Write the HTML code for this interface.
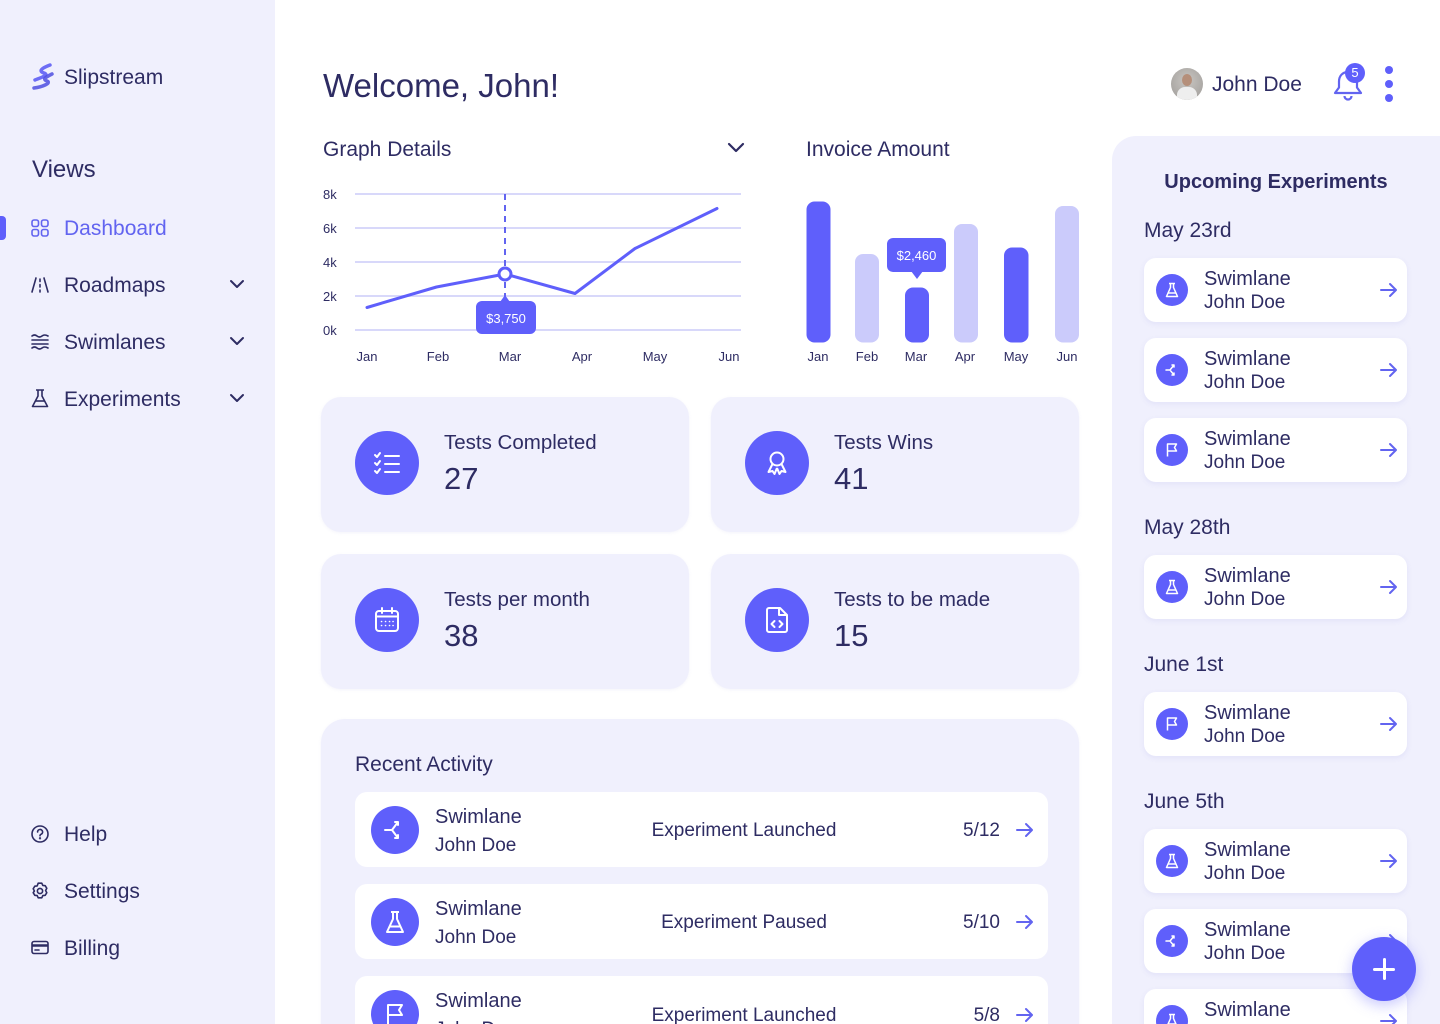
<!DOCTYPE html>
<html style="width:1440px;height:1024px;overflow:hidden"><head><meta charset="utf-8">
<style>
*{margin:0;padding:0;box-sizing:border-box}
html,body{width:1440px;height:1024px;overflow:hidden}
body{background:#fff;font-family:"Liberation Sans",sans-serif;color:#2e2c63}
#root{position:relative;width:1440px;height:1024px;overflow:hidden}
.a{position:absolute;white-space:nowrap}
.sb{position:absolute;left:0;top:0;width:275px;height:1024px;background:#f0f0fd}
.nav{position:absolute;left:64px;font-size:21px;line-height:26px;height:26px}
.ic{position:absolute}
.card{position:absolute;background:#f0f0fd;border-radius:20px;box-shadow:0 1px 3px rgba(120,120,200,.08)}
.circ{position:absolute;width:64px;height:64px;border-radius:50%;background:#5f5ffb;left:34px;top:34px}
.circ svg{position:absolute;left:16px;top:16px}
.ct{position:absolute;left:123px;top:33px;font-size:20.5px;line-height:26px}
.cn{position:absolute;left:123px;top:64px;font-size:31px;line-height:36px}
.row{position:absolute;left:355px;width:693px;height:75px;background:#fff;border-radius:12px}
.row .c{position:absolute;left:16px;top:14px;width:48px;height:48px;border-radius:50%;background:#5f5ffb}
.row .c svg{position:absolute;left:12px;top:12px}
.row .t1{position:absolute;left:80px;top:13px;font-size:20px;line-height:24px}
.row .t2{position:absolute;left:80px;top:42px;font-size:19px;line-height:24px}
.row .m{position:absolute;left:200px;width:378px;top:27px;text-align:center;font-size:19px;line-height:24px}
.row .d{position:absolute;right:48px;top:27px;font-size:19px;line-height:24px}
.row .ar{position:absolute;right:14px;top:30px}
.rp{position:absolute;left:1112px;top:136px;width:328px;height:888px;background:#f0f0fd;border-top-left-radius:24px}
.ue{position:absolute;left:1144px;width:263px;height:64px;background:#fff;border-radius:12px;box-shadow:0 2px 6px rgba(110,110,210,.10)}
.ue .c{position:absolute;left:12px;top:16px;width:32px;height:32px;border-radius:50%;background:#5f5ffb}
.ue .c svg{position:absolute;left:8px;top:8px}
.ue .t1{position:absolute;left:60px;top:9px;font-size:20px;line-height:24px}
.ue .t2{position:absolute;left:60px;top:33px;font-size:19px;line-height:24px}
.ue .ar{position:absolute;left:236px;top:24px}
.dt{position:absolute;left:1144px;font-size:21px;line-height:26px}
</style></head><body><div id="root">

<div class="sb"></div>
<!-- logo -->
<svg class="ic" style="left:30px;top:62px" width="28" height="30" viewBox="0 0 28 30">
<path d="M20 3 C12 6 8 9 14 11 C20 13 10 16 5 18" stroke="#6d6df5" stroke-width="3.5" fill="none" stroke-linecap="round"/>
<path d="M22 12 C16 15 12 17 17 19 C22 21 12 25 4 26" stroke="#4f4fe0" stroke-width="3.5" fill="none" stroke-linecap="round" opacity=".85"/>
</svg>
<div class="a" style="left:64px;top:65px;font-size:21px;line-height:26px">Slipstream</div>
<div class="a" style="left:32px;top:156px;font-size:24px;line-height:28px">Views</div>

<div class="a" style="left:0;top:216px;width:6px;height:24px;background:#5f5ffb;border-radius:0 4px 4px 0"></div>
<svg class="ic" style="left:31px;top:219px" width="18" height="18" viewBox="0 0 18 18" fill="none" stroke="#6264f0" stroke-width="1.6">
<rect x="1" y="1" width="6.5" height="6.5" rx="2"/><rect x="10.5" y="1" width="6.5" height="6.5" rx="2"/><rect x="1" y="10.5" width="6.5" height="6.5" rx="2"/><rect x="10.5" y="10.5" width="6.5" height="6.5" rx="2"/></svg>
<div class="nav a" style="top:216px;color:#6264f0">Dashboard</div>

<svg class="ic" style="left:31px;top:276px" width="18" height="18" viewBox="0 0 18 18" fill="none" stroke="#2e2c63" stroke-width="1.6" stroke-linecap="round">
<path d="M5 2 L1 16"/><path d="M13 2 L17 16"/><path d="M9 3v2.5M9 8.5v2.5M9 14v2"/></svg>
<div class="nav a" style="top:273px">Roadmaps</div>
<svg class="ic" style="left:31px;top:333px" width="18" height="18" viewBox="0 0 18 18" fill="none" stroke="#2e2c63" stroke-width="1.6" stroke-linecap="round">
<path d="M1 3 Q3.5 1 6 3 T11 3 T17 3"/><path d="M1 7h16"/><path d="M1 11h16"/><path d="M1 15 Q3.5 13 6 15 T11 15 T17 15"/></svg>
<div class="nav a" style="top:330px">Swimlanes</div>
<svg class="ic" style="left:31px;top:389px" width="18" height="19" viewBox="0 0 18 19" fill="none" stroke="#2e2c63" stroke-width="1.6" stroke-linejoin="round">
<path d="M5 1h8M7 1v6L1.5 17.5h15L11 7V1"/><path d="M4 12h10"/></svg>
<div class="nav a" style="top:387px">Experiments</div>

<svg class="ic" style="left:229px;top:279px" width="16" height="10" viewBox="0 0 16 10"><path d="M2 2l6 6 6-6" stroke="#2e2c63" stroke-width="2" fill="none" stroke-linecap="round" stroke-linejoin="round"/></svg>
<svg class="ic" style="left:229px;top:336px" width="16" height="10" viewBox="0 0 16 10"><path d="M2 2l6 6 6-6" stroke="#2e2c63" stroke-width="2" fill="none" stroke-linecap="round" stroke-linejoin="round"/></svg>
<svg class="ic" style="left:229px;top:393px" width="16" height="10" viewBox="0 0 16 10"><path d="M2 2l6 6 6-6" stroke="#2e2c63" stroke-width="2" fill="none" stroke-linecap="round" stroke-linejoin="round"/></svg>

<svg class="ic" style="left:31px;top:825px" width="18" height="18" viewBox="0 0 18 18" fill="none" stroke="#2e2c63" stroke-width="1.6" stroke-linecap="round">
<circle cx="9" cy="9" r="8"/><path d="M6.6 7a2.5 2.5 0 1 1 3.4 2.3c-.7.3-1 .8-1 1.5"/><circle cx="9" cy="13.3" r=".4" fill="#2e2c63"/></svg>
<div class="nav a" style="top:822px">Help</div>
<svg class="ic" style="left:31px;top:882px" width="18" height="18" viewBox="0 0 18 18" fill="none" stroke="#2e2c63" stroke-width="1.6" stroke-linejoin="round">
<path d="M7.2 1.2h3.6l1 2.2 2.4.3 1.6 2.6-1.2 2.2 1.2 2.2-1.6 2.6-2.4.3-1 2.2H7.2l-1-2.2-2.4-.3-1.6-2.6L3.4 9 2.2 6.8l1.6-2.6 2.4-.3z"/><circle cx="9" cy="9" r="2.6"/></svg>
<div class="nav a" style="top:879px">Settings</div>
<svg class="ic" style="left:31px;top:940px" width="18" height="16" viewBox="0 0 18 16" fill="none" stroke="#2e2c63" stroke-width="1.6">
<rect x="1" y="1.5" width="16" height="12" rx="2"/><path d="M1 5.5h16" stroke-width="2.5"/><path d="M4 10h4" stroke-linecap="round"/></svg>
<div class="nav a" style="top:936px">Billing</div>

<!-- header -->
<div class="a" style="left:323px;top:67px;font-size:33px;line-height:38px">Welcome, John!</div>
<div class="a" style="left:1171px;top:68px;width:32px;height:32px;border-radius:50%;background:radial-gradient(circle at 50% 40%,#c9c6c2,#9d9a97);overflow:hidden">
<div style="position:absolute;left:11px;top:6px;width:10px;height:12px;border-radius:50%;background:#b58f7a"></div>
<div style="position:absolute;left:6px;top:19px;width:20px;height:16px;border-radius:8px 8px 0 0;background:#eeeeee"></div></div>
<div class="a" style="left:1212px;top:72px;font-size:21px;line-height:26px">John Doe</div>
<svg class="ic" style="left:1331px;top:64px" width="36" height="38" viewBox="0 0 36 38" fill="none" stroke="#6264f0" stroke-width="2.2" stroke-linejoin="round">
<path d="M17 8c-5.5 0-9 4-9 9.5v6L4 29h26l-4-5.5v-6C26 12 22.5 8 17 8z"/><path d="M13.5 32a3.5 3.5 0 0 0 7 0"/></svg>
<div class="a" style="left:1345px;top:63px;width:20px;height:20px;border-radius:50%;background:#5f5ffb;color:#fff;font-size:13px;line-height:20px;text-align:center">5</div>
<div class="a" style="left:1385px;top:66px;width:8px;height:8px;border-radius:50%;background:#5f5ffb"></div>
<div class="a" style="left:1385px;top:80px;width:8px;height:8px;border-radius:50%;background:#5f5ffb"></div>
<div class="a" style="left:1385px;top:94px;width:8px;height:8px;border-radius:50%;background:#5f5ffb"></div>

<!-- charts -->
<div class="a" style="left:323px;top:137px;font-size:21px;line-height:26px">Graph Details</div>
<svg class="ic" style="left:727px;top:142px" width="18" height="12" viewBox="0 0 18 12"><path d="M2 2l7 7 7-7" stroke="#2e2c63" stroke-width="2.2" fill="none" stroke-linecap="round" stroke-linejoin="round"/></svg>
<div class="a" style="left:806px;top:137px;font-size:21px;line-height:26px">Invoice Amount</div>

<svg class="ic" style="left:0;top:0" width="1440" height="380" viewBox="0 0 1440 380">
<g stroke="#d8d8fa" stroke-width="2">
<line x1="355" y1="194" x2="741" y2="194"/><line x1="355" y1="228" x2="741" y2="228"/><line x1="355" y1="262" x2="741" y2="262"/><line x1="355" y1="296" x2="741" y2="296"/><line x1="355" y1="330" x2="741" y2="330"/></g>
<g font-family="Liberation Sans,sans-serif" font-size="13" fill="#2e2c63">
<text x="323" y="199">8k</text><text x="323" y="233">6k</text><text x="323" y="267">4k</text><text x="323" y="301">2k</text><text x="323" y="335">0k</text>
<g text-anchor="middle"><text x="367" y="361">Jan</text><text x="438" y="361">Feb</text><text x="510" y="361">Mar</text><text x="582" y="361">Apr</text><text x="655" y="361">May</text><text x="729" y="361">Jun</text>
<text x="818" y="361">Jan</text><text x="867" y="361">Feb</text><text x="916" y="361">Mar</text><text x="965" y="361">Apr</text><text x="1016" y="361">May</text><text x="1067" y="361">Jun</text></g></g>
<line x1="505" y1="194" x2="505" y2="300" stroke="#6264f0" stroke-width="2" stroke-dasharray="6,5"/>
<polyline points="367,307.5 436.5,287 505,274 575,293.5 635,248.5 717,208.5" fill="none" stroke="#5f5ffb" stroke-width="3" stroke-linejoin="round" stroke-linecap="round"/>
<circle cx="505" cy="274" r="6" fill="#fff" stroke="#5f5ffb" stroke-width="3"/>
<rect x="476" y="301" width="60" height="33" rx="6" fill="#5f5ffb"/>
<path d="M500 302 L505 295 L510 302z" fill="#5f5ffb"/>
<text x="506" y="323" font-family="Liberation Sans,sans-serif" font-size="13" fill="#fff" text-anchor="middle">$3,750</text>
<g>
<rect x="806.5" y="201.5" width="24" height="141" rx="8" fill="#5f5ffb"/>
<rect x="855" y="254" width="24" height="88.5" rx="8" fill="#cbcbfb"/>
<rect x="905" y="287.5" width="24" height="55" rx="8" fill="#5f5ffb"/>
<rect x="954" y="224" width="24" height="118.5" rx="8" fill="#cbcbfb"/>
<rect x="1004" y="247.5" width="24.5" height="95" rx="8" fill="#5f5ffb"/>
<rect x="1055" y="206" width="24" height="136.5" rx="8" fill="#cbcbfb"/></g>
<rect x="887" y="238" width="59" height="34" rx="6" fill="#5f5ffb"/>
<path d="M911 271 L917 279 L923 271z" fill="#5f5ffb"/>
<text x="916.5" y="260" font-family="Liberation Sans,sans-serif" font-size="13" fill="#fff" text-anchor="middle">$2,460</text>
</svg>

<!-- stat cards -->
<div class="card" style="left:321px;top:397px;width:368px;height:135px">
<div class="circ"><svg width="32" height="32" viewBox="0 0 32 32" fill="none" stroke="#fff" stroke-width="2" stroke-linecap="round" stroke-linejoin="round">
<path d="M4 8l2 2 3-4M4 16l2 2 3-4M4 24l2 2 3-4"/><path d="M14 9h14M14 17h14M14 25h14"/></svg></div>
<div class="ct">Tests Completed</div><div class="cn">27</div></div>
<div class="card" style="left:711px;top:397px;width:368px;height:135px">
<div class="circ"><svg width="32" height="32" viewBox="0 0 32 32" fill="none" stroke="#fff" stroke-width="2" stroke-linejoin="round">
<circle cx="16" cy="12" r="6.5"/><path d="M11.5 17l-4 8 4-1 2 3 2.5-6M20.5 17l4 8-4-1-2 3-2.5-6"/></svg></div>
<div class="ct">Tests Wins</div><div class="cn">41</div></div>
<div class="card" style="left:321px;top:554px;width:368px;height:135px">
<div class="circ"><svg width="32" height="32" viewBox="0 0 32 32" fill="none" stroke="#fff" stroke-width="2" stroke-linecap="round">
<rect x="5" y="7" width="22" height="20" rx="3"/><path d="M5 12.5h22M11 4v5M21 4v5"/><g stroke-width="1.6"><path d="M10.5 17.5h.1M14.5 17.5h.1M18.5 17.5h.1M22 17.5h.1M10.5 21.5h.1M14.5 21.5h.1M18.5 21.5h.1M22 21.5h.1"/></g></svg></div>
<div class="ct">Tests per month</div><div class="cn">38</div></div>
<div class="card" style="left:711px;top:554px;width:368px;height:135px">
<div class="circ"><svg width="32" height="32" viewBox="0 0 32 32" fill="none" stroke="#fff" stroke-width="2" stroke-linecap="round" stroke-linejoin="round">
<path d="M8 4h11l7 7v15a2 2 0 0 1-2 2H8a2 2 0 0 1-2-2V6a2 2 0 0 1 2-2z"/><path d="M18 4v7h7"/><path d="M13.5 17l-3 3 3 3M18.5 17l3 3-3 3"/></svg></div>
<div class="ct">Tests to be made</div><div class="cn">15</div></div>

<!-- recent activity -->
<div class="card" style="left:321px;top:719px;width:758px;height:340px;border-radius:24px"></div>
<div class="a" style="left:355px;top:752px;font-size:21px;line-height:26px">Recent Activity</div>

<div class="row" style="top:792px"><div class="c"><svg width="24" height="24" viewBox="0 0 24 24" fill="none" stroke="#fff" stroke-width="2" stroke-linecap="round" stroke-linejoin="round"><path d="M2 12h7l6-8M9 12l6 8M12 4h3v3M12 20h3v-3"/></svg></div>
<div class="t1">Swimlane</div><div class="t2">John Doe</div><div class="m">Experiment Launched</div><div class="d">5/12</div>
<svg class="ar" width="18" height="16" viewBox="0 0 18 16" fill="none" stroke="#6264f0" stroke-width="2" stroke-linecap="round" stroke-linejoin="round"><path d="M1 8h15M10 2l6 6-6 6"/></svg></div>
<div class="row" style="top:884px"><div class="c"><svg width="24" height="24" viewBox="0 0 24 24" fill="none" stroke="#fff" stroke-width="2" stroke-linejoin="round"><path d="M8 2h8M10 2v7L4 22h16L14 9V2"/><path d="M6.5 16.5h11"/></svg></div>
<div class="t1">Swimlane</div><div class="t2">John Doe</div><div class="m">Experiment Paused</div><div class="d">5/10</div>
<svg class="ar" width="18" height="16" viewBox="0 0 18 16" fill="none" stroke="#6264f0" stroke-width="2" stroke-linecap="round" stroke-linejoin="round"><path d="M1 8h15M10 2l6 6-6 6"/></svg></div>
<div class="row" style="top:976px"><div class="c"><svg width="24" height="24" viewBox="0 0 24 24" fill="none" stroke="#fff" stroke-width="2" stroke-linejoin="round"><path d="M5 22V3h14l-3 5 3 5H5"/></svg></div>
<div class="t1">Swimlane</div><div class="t2">John Doe</div><div class="m" style="top:28px">Experiment Launched</div><div class="d" style="top:28px">5/8</div>
<svg class="ar" style="top:31px" width="18" height="16" viewBox="0 0 18 16" fill="none" stroke="#6264f0" stroke-width="2" stroke-linecap="round" stroke-linejoin="round"><path d="M1 8h15M10 2l6 6-6 6"/></svg></div>

<!-- right panel -->
<div class="rp"></div>
<div class="a" style="left:1112px;width:328px;text-align:center;top:169px;font-size:20px;line-height:26px;font-weight:bold">Upcoming Experiments</div>

<div class="dt" style="top:218px">May 23rd</div>
<div class="ue" style="top:258px"><div class="c"><svg width="16" height="16" viewBox="0 0 16 16" fill="none" stroke="#fff" stroke-width="1.5" stroke-linejoin="round"><path d="M5 1.5h6M6.5 1.5v4L2.5 14.5h11l-4-9v-4"/><path d="M4 11h8"/></svg></div><div class="t1">Swimlane</div><div class="t2">John Doe</div>
<svg class="ar" width="18" height="16" viewBox="0 0 18 16" fill="none" stroke="#6264f0" stroke-width="2" stroke-linecap="round" stroke-linejoin="round"><path d="M1 8h15M10 2l6 6-6 6"/></svg></div>
<div class="ue" style="top:338px"><div class="c"><svg width="16" height="16" viewBox="0 0 16 16" fill="none" stroke="#fff" stroke-width="1.5" stroke-linecap="round" stroke-linejoin="round"><path d="M2 8h4l4-5M6 8l4 5M8 3h2v2M8 13h2v-2"/></svg></div><div class="t1">Swimlane</div><div class="t2">John Doe</div>
<svg class="ar" width="18" height="16" viewBox="0 0 18 16" fill="none" stroke="#6264f0" stroke-width="2" stroke-linecap="round" stroke-linejoin="round"><path d="M1 8h15M10 2l6 6-6 6"/></svg></div>
<div class="ue" style="top:418px"><div class="c"><svg width="16" height="16" viewBox="0 0 16 16" fill="none" stroke="#fff" stroke-width="1.5" stroke-linejoin="round"><path d="M3.5 14.5V2h9l-2 3.5 2 3.5h-9"/></svg></div><div class="t1">Swimlane</div><div class="t2">John Doe</div>
<svg class="ar" width="18" height="16" viewBox="0 0 18 16" fill="none" stroke="#6264f0" stroke-width="2" stroke-linecap="round" stroke-linejoin="round"><path d="M1 8h15M10 2l6 6-6 6"/></svg></div>

<div class="dt" style="top:515px">May 28th</div>
<div class="ue" style="top:555px"><div class="c"><svg width="16" height="16" viewBox="0 0 16 16" fill="none" stroke="#fff" stroke-width="1.5" stroke-linejoin="round"><path d="M5 1.5h6M6.5 1.5v4L2.5 14.5h11l-4-9v-4"/><path d="M4 11h8"/></svg></div><div class="t1">Swimlane</div><div class="t2">John Doe</div>
<svg class="ar" width="18" height="16" viewBox="0 0 18 16" fill="none" stroke="#6264f0" stroke-width="2" stroke-linecap="round" stroke-linejoin="round"><path d="M1 8h15M10 2l6 6-6 6"/></svg></div>

<div class="dt" style="top:652px">June 1st</div>
<div class="ue" style="top:692px"><div class="c"><svg width="16" height="16" viewBox="0 0 16 16" fill="none" stroke="#fff" stroke-width="1.5" stroke-linejoin="round"><path d="M3.5 14.5V2h9l-2 3.5 2 3.5h-9"/></svg></div><div class="t1">Swimlane</div><div class="t2">John Doe</div>
<svg class="ar" width="18" height="16" viewBox="0 0 18 16" fill="none" stroke="#6264f0" stroke-width="2" stroke-linecap="round" stroke-linejoin="round"><path d="M1 8h15M10 2l6 6-6 6"/></svg></div>

<div class="dt" style="top:789px">June 5th</div>
<div class="ue" style="top:829px"><div class="c"><svg width="16" height="16" viewBox="0 0 16 16" fill="none" stroke="#fff" stroke-width="1.5" stroke-linejoin="round"><path d="M5 1.5h6M6.5 1.5v4L2.5 14.5h11l-4-9v-4"/><path d="M4 11h8"/></svg></div><div class="t1">Swimlane</div><div class="t2">John Doe</div>
<svg class="ar" width="18" height="16" viewBox="0 0 18 16" fill="none" stroke="#6264f0" stroke-width="2" stroke-linecap="round" stroke-linejoin="round"><path d="M1 8h15M10 2l6 6-6 6"/></svg></div>
<div class="ue" style="top:909px"><div class="c"><svg width="16" height="16" viewBox="0 0 16 16" fill="none" stroke="#fff" stroke-width="1.5" stroke-linecap="round" stroke-linejoin="round"><path d="M2 8h4l4-5M6 8l4 5M8 3h2v2M8 13h2v-2"/></svg></div><div class="t1">Swimlane</div><div class="t2">John Doe</div>
<svg class="ar" width="18" height="16" viewBox="0 0 18 16" fill="none" stroke="#6264f0" stroke-width="2" stroke-linecap="round" stroke-linejoin="round"><path d="M1 8h15M10 2l6 6-6 6"/></svg></div>
<div class="ue" style="top:989px"><div class="c"><svg width="16" height="16" viewBox="0 0 16 16" fill="none" stroke="#fff" stroke-width="1.5" stroke-linejoin="round"><path d="M5 1.5h6M6.5 1.5v4L2.5 14.5h11l-4-9v-4"/><path d="M4 11h8"/></svg></div><div class="t1">Swimlane</div><div class="t2">John Doe</div>
<svg class="ar" width="18" height="16" viewBox="0 0 18 16" fill="none" stroke="#6264f0" stroke-width="2" stroke-linecap="round" stroke-linejoin="round"><path d="M1 8h15M10 2l6 6-6 6"/></svg></div>

<!-- FAB -->
<div class="a" style="left:1352px;top:937px;width:64px;height:64px;border-radius:50%;background:#5f5ffb;box-shadow:0 4px 14px rgba(95,95,251,.35)">
<div style="position:absolute;left:21px;top:30.5px;width:22px;height:3px;background:#fff;border-radius:2px"></div>
<div style="position:absolute;left:30.5px;top:21px;width:3px;height:22px;background:#fff;border-radius:2px"></div></div>

</div></body></html>
